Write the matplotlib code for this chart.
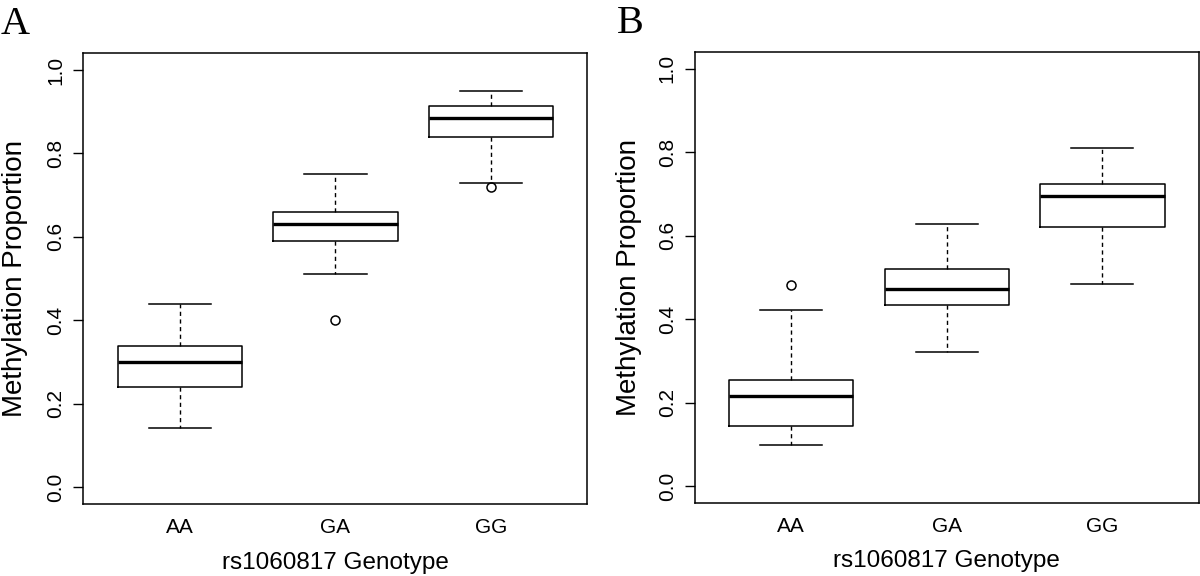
import matplotlib
matplotlib.use("Agg")
import matplotlib.pyplot as plt

plt.rcParams['font.family'] = ['Liberation Sans', 'DejaVu Sans']

genotypes = ["AA", "GA", "GG"]

# panel A
a_whislo = [0.141, 0.510, 0.730]
a_q1 = [0.241, 0.589, 0.840]
a_med = [0.300, 0.630, 0.884]
a_q3 = [0.339, 0.660, 0.914]
a_whishi = [0.440, 0.750, 0.950]
a_fliers = [[], [0.400], [0.719]]

# panel B
b_whislo = [0.098, 0.322, 0.484]
b_q1 = [0.143, 0.435, 0.621]
b_med = [0.216, 0.471, 0.694]
b_q3 = [0.255, 0.519, 0.723]
b_whishi = [0.423, 0.628, 0.811]
b_fliers = [[0.482], [], []]


def make_stats(lo, q1, med, q3, hi, fl):
    out = []
    for i in range(len(genotypes)):
        out.append({"whislo": lo[i], "q1": q1[i], "med": med[i], "q3": q3[i],
                    "whishi": hi[i], "fliers": fl[i], "label": genotypes[i]})
    return out


def draw(ax, stats, letter, ylab_x, letter_x):
    ax.bxp(stats, positions=[1, 2, 3], widths=0.8, capwidths=0.4,
           boxprops=dict(color="black", linewidth=1.1),
           whiskerprops=dict(color="black", linewidth=1.0, linestyle=(0, (3, 2.5))),
           capprops=dict(color="black", linewidth=1.1),
           medianprops=dict(color="black", linewidth=2.4),
           flierprops=dict(marker="o", markersize=6.5, markerfacecolor="none",
                           markeredgecolor="black", markeredgewidth=1.1))
    ax.set_xlim(0.38, 3.62)
    ax.set_ylim(-0.04, 1.04)
    ax.set_yticks([0.0, 0.2, 0.4, 0.6, 0.8, 1.0])
    ax.set_yticklabels(["0.0", "0.2", "0.4", "0.6", "0.8", "1.0"],
                       rotation=90, va="center")
    ax.tick_params(axis="y", length=7, width=1, labelsize=15, pad=6)
    ax.tick_params(axis="x", length=0, labelsize=15, pad=10)
    for s in ax.spines.values():
        s.set_linewidth(1.1)
    ax.set_ylabel("Methylation Proportion", fontsize=20, va="center")
    ax.yaxis.set_label_coords(ylab_x, 0.5)
    ax.set_xlabel("rs1060817 Genotype", fontsize=17.5, va="center")
    ax.xaxis.set_label_coords(0.5, -0.13)
    ax.text(letter_x, 1.105, letter, transform=ax.transAxes, fontsize=29,
            family="Liberation Serif", ha="left", va="top")


fig = plt.figure(figsize=(12, 5.76), dpi=100)
ax1 = fig.add_axes([0.0695, 0.125, 0.42, 0.7825])
ax2 = fig.add_axes([0.579, 0.1274, 0.42, 0.782])

draw(ax1, make_stats(a_whislo, a_q1, a_med, a_q3, a_whishi, a_fliers), "A",
     -0.135, -0.165)
draw(ax2, make_stats(b_whislo, b_q1, b_med, b_q3, b_whishi, b_fliers), "B",
     -0.131, -0.155)

fig.savefig("out.png", dpi=100)
